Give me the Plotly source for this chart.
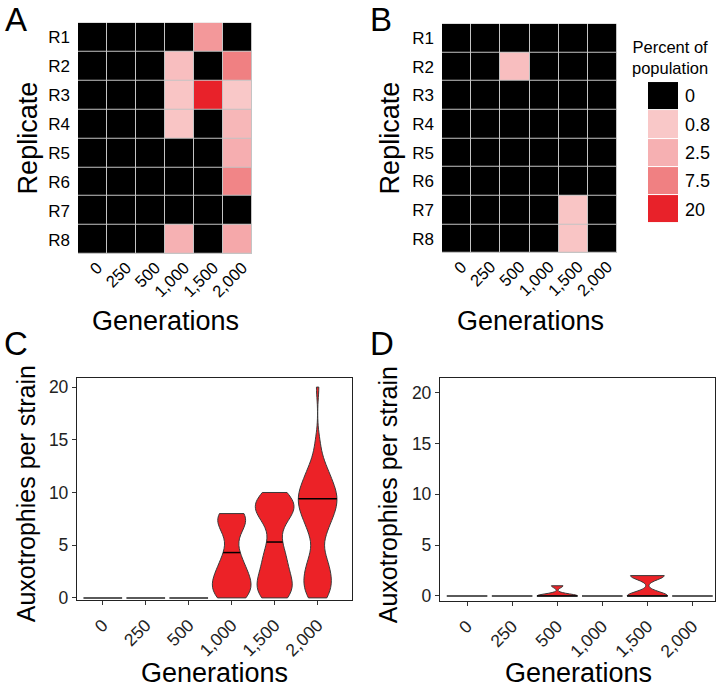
import numpy as np
import plotly.graph_objects as go

# ---------------- data ----------------
generations = ["0", "250", "500", "1,000", "1,500", "2,000"]
replicates = ["R1", "R2", "R3", "R4", "R5", "R6", "R7", "R8"]

# Panel A: percent of population (rows R1..R8, columns generations)
pct_A = [
    [0, 0, 0, 0.0, 5.0, 0.0],
    [0, 0, 0, 1.5, 0.0, 7.5],
    [0, 0, 0, 1.0, 20.0, 0.8],
    [0, 0, 0, 1.0, 0.0, 2.0],
    [0, 0, 0, 0.0, 0.0, 2.7],
    [0, 0, 0, 0.0, 0.0, 7.0],
    [0, 0, 0, 0.0, 0.0, 0.0],
    [0, 0, 0, 2.4, 0.0, 3.3],
]
# Panel B
pct_B = [
    [0, 0, 0.0, 0, 0.0, 0],
    [0, 0, 1.5, 0, 0.0, 0],
    [0, 0, 0.0, 0, 0.0, 0],
    [0, 0, 0.0, 0, 0.0, 0],
    [0, 0, 0.0, 0, 0.0, 0],
    [0, 0, 0.0, 0, 0.0, 0],
    [0, 0, 0.0, 0, 1.0, 0],
    [0, 0, 0.0, 0, 1.0, 0],
]

legend_breaks = [0, 0.8, 2.5, 7.5, 20]
legend_labels = ["0", "0.8", "2.5", "7.5", "20"]
legend_colors = ["#000000", "#F9C8C8", "#F6B0B2", "#F08082", "#E8222A"]

# Panel C: auxotrophies per strain (value, count) per generation
c_values = [[0], [0], [0],
            [0, 1, 2, 3, 4, 5, 6, 7, 8],
            [0, 1, 2, 3, 4, 5, 6, 7, 8, 9, 10],
            [0, 1, 2, 3, 4, 5, 6, 7, 8, 9, 10, 11, 12, 13, 14, 15, 20]]
c_counts = [[24], [24], [24],
            [4, 5, 4, 3, 2, 1, 1, 4, 4],
            [4, 5, 4, 3, 3, 2, 1, 2, 5, 6, 3],
            [4, 5, 5, 4, 3, 1, 3, 4, 6, 7, 7, 5, 4, 2, 1, 1, 1]]
c_median = [0, 0, 0, 4.3, 5.3, 9.4]
c_bandwidth = [None, None, None, 1.0, 1.0, 1.0]

# Panel D
d_values = [[0], [0], [0, 1], [0], [0, 2], [0]]
d_counts = [[24], [24], [14, 4], [24], [12, 10], [24]]
d_median = [0, 0, 0, 0, 0, 0]
d_bandwidth = [None, None, 0.2, None, 0.4, None]

# ---------------- helpers ----------------
W, H = 718, 694
FONT = "Liberation Sans, Arial, Helvetica, sans-serif"
VIOLIN_FILL = "#EC2227"
VIOLIN_LINE = "#3a3a3a"
HALF = 0.45


def fx(p):
    return p / W


def fy(p):
    return 1 - p / H


zmax = legend_breaks[-1]
colorscale = [[0.0, legend_colors[0]], [0.001, legend_colors[0]], [0.0011, legend_colors[1]]]
for b, c in zip(legend_breaks[1:], legend_colors[1:]):
    colorscale.append([b / zmax, c])

fig = go.Figure()

# heatmaps
for z, ax in [(pct_A, ""), (pct_B, "2")]:
    fig.add_trace(go.Heatmap(
        z=z, x=generations, y=replicates, colorscale=colorscale, zmin=0, zmax=zmax,
        showscale=False, xgap=1, ygap=1, xaxis="x" + ax, yaxis="y" + ax,
        hoverinfo="skip"))

# legend swatches
fig.add_trace(go.Heatmap(
    z=[[b] for b in legend_breaks], x=[""], y=legend_labels, colorscale=colorscale,
    zmin=0, zmax=zmax, showscale=False, ygap=1, xaxis="x3", yaxis="y3", hoverinfo="skip"))


def add_violin_panel(values, counts, medians, bws, xa, ya):
    for i, (vals, cnts) in enumerate(zip(values, counts)):
        s = np.repeat(np.array(vals, float), cnts)
        if s.min() == s.max():
            fig.add_trace(go.Scatter(
                x=[i - HALF, i + HALF], y=[s[0], s[0]], mode="lines",
                line=dict(color="#5a5a5a", width=2), xaxis=xa, yaxis=ya,
                showlegend=False, hoverinfo="skip"))
            continue
        bw = bws[i]
        fig.add_trace(go.Violin(
            x=[i] * len(s), y=s, width=2 * HALF, scalemode="width", scalegroup=f"{xa}{i}",
            spanmode="hard", bandwidth=bw, points=False, fillcolor=VIOLIN_FILL,
            line=dict(color=VIOLIN_LINE, width=1), xaxis=xa, yaxis=ya,
            showlegend=False, hoverinfo="skip"))
        # median line width from KDE (same as plotly's density)
        lo, hi = s.min(), s.max()
        n = int(np.ceil((hi - lo) / (bw / 3)))
        grid = lo + np.arange(n + 1) * (hi - lo) / n
        kde = lambda t: np.exp(-0.5 * ((np.atleast_1d(t)[:, None] - s[None, :]) / bw) ** 2).sum(1)
        m = medians[i]
        hw = HALF * kde(m)[0] / kde(grid).max()
        fig.add_trace(go.Scatter(
            x=[i - hw, i + hw], y=[m, m], mode="lines",
            line=dict(color="black", width=1.5), xaxis=xa, yaxis=ya,
            showlegend=False, hoverinfo="skip"))


add_violin_panel(c_values, c_counts, c_median, c_bandwidth, "x4", "y4")
add_violin_panel(d_values, d_counts, d_median, d_bandwidth, "x5", "y5")

# ---------------- layout ----------------
heat_x = dict(showgrid=False, zeroline=False, showline=False, ticks="", tickangle=-45,
              ticklabelshift=5, tickfont=dict(size=16.5, color="black"))
heat_y = dict(showgrid=False, zeroline=False, showline=False, ticks="", autorange="reversed",
              tickfont=dict(size=17, color="black"), ticklabelstandoff=7)
frame = dict(showgrid=False, zeroline=False, showline=True, mirror=True, linecolor="#222222",
             linewidth=1.3, ticks="outside", ticklen=4, tickcolor="#333333",
             tickfont=dict(size=17.5, color="#222222"))

fig.update_layout(
    width=W, height=H, autosize=False, margin=dict(l=0, r=0, t=0, b=0),
    paper_bgcolor="white", plot_bgcolor="white", font=dict(family=FONT, color="black"),
    violinmode="overlay", showlegend=False,
    xaxis=dict(domain=[fx(78), fx(252)], anchor="y", **heat_x),
    yaxis=dict(domain=[fy(257), fy(23)], anchor="x", **heat_y),
    xaxis2=dict(domain=[fx(442), fx(617)], anchor="y2", **heat_x),
    yaxis2=dict(domain=[fy(256), fy(24)], anchor="x2", **heat_y),
    xaxis3=dict(domain=[fx(648), fx(678)], anchor="y3", showticklabels=False, ticks="",
                showgrid=False, zeroline=False),
    yaxis3=dict(domain=[fy(226), fy(83)], anchor="x3", side="right", autorange="reversed",
                ticks="", showgrid=False, zeroline=False, ticklabelstandoff=6,
                tickfont=dict(size=18, color="black")),
    xaxis4=dict(domain=[fx(77), fx(352)], anchor="y4", range=[-0.6, 5.8],
                tickvals=list(range(len(generations))), ticktext=generations, tickangle=-45,
                ticklabelstandoff=3, **frame),
    yaxis4=dict(domain=[fy(607), fy(382)], anchor="x4", range=[-0.2, 20.9],
                tickvals=[0, 5, 10, 15, 20], **frame),
    xaxis5=dict(domain=[fx(440), fx(715)], anchor="y5", range=[-0.6, 5.5],
                tickvals=list(range(len(generations))), ticktext=generations, tickangle=-45,
                ticklabelstandoff=3, **frame),
    yaxis5=dict(domain=[fy(608), fy(382)], anchor="x5", range=[-0.5, 21.5],
                tickvals=[0, 5, 10, 15, 20], **frame),
)

# gap colour behind heatmap cells
for ax in ["", "2"]:
    fig.add_shape(type="rect", xref=f"x{ax} domain", yref=f"y{ax} domain", x0=0, x1=1, y0=0, y1=1,
                  fillcolor="#C4C4C4", line=dict(width=0), layer="below")


def ann(text, x, y, size, angle=0, **kw):
    fig.add_annotation(text=text, x=fx(x), y=fy(y), xref="paper", yref="paper", showarrow=False,
                       textangle=angle, xanchor="center", yanchor="middle",
                       font=dict(size=size, family=FONT, color="black"), **kw)


# panel letters
ann("A", 16, 20, 33)
ann("B", 381, 20, 33)
ann("C", 16, 347, 33)
ann("D", 382, 348, 33)
# axis titles
ann("Replicate", 28, 140, 27, -90)
ann("Replicate", 390, 140, 27, -90)
ann("Generations", 165, 325, 27)
ann("Generations", 530, 325, 27)
ann("Auxotrophies per strain", 26, 500, 25, -90)
ann("Auxotrophies per strain", 388, 500, 25, -90)
ann("Generations", 214, 681, 27)
ann("Generations", 578, 681, 27)
# legend title
ann("Percent of<br>population", 670, 58, 16.5)

fig.write_html("out.html", config={"displayModeBar": False},
               post_script="document.body.style.margin='0';")
